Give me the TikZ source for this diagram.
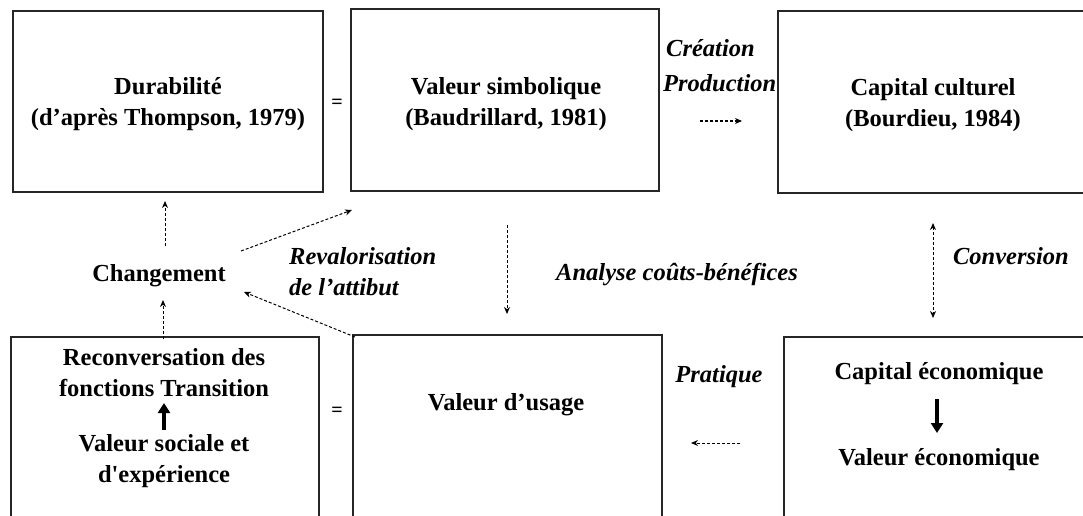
\documentclass[tikz,border=0pt]{standalone}
\usepackage{fontspec}
\setmainfont{Liberation Serif}[Ligatures=TeXOff]
\usetikzlibrary{arrows.meta}
\begin{document}
\begin{tikzpicture}[x=1pt,y=-1pt,
  box/.style={draw=black!85, line width=1.2pt},
  txt/.style={font=\fontsize{24.5}{31}\selectfont\bfseries, align=center, inner sep=0pt},
  itxt/.style={font=\fontsize{24.5}{31}\selectfont\bfseries\itshape, align=left, inner sep=0pt},
  eq/.style={font=\fontsize{20}{20}\selectfont\bfseries, inner sep=0pt},
  dasharrow/.style={densely dashed, line width=1pt, -{Stealth[length=7pt,width=6pt]}},
  dasharrows/.style={densely dashed, line width=1pt, {Stealth[length=7pt,width=6pt]}-{Stealth[length=7pt,width=6pt]}},
  thickarrow/.style={line width=4.5pt, -{Triangle[length=10pt,width=12pt]}}]
\clip (0,0) rectangle (1083,516);
\fill[white] (0,0) rectangle (1083,516);
% boxes
\draw[box] (13,11) rectangle (323,192) node[pos=0.5,inner sep=0] (b1) {};
\draw[box] (351,9) rectangle (659,191) node[pos=0.5,inner sep=0] (b2) {};
\draw[box] (778,11) rectangle (1095,193) node[pos=0.5,inner sep=0] (b3) {};
\draw[box] (11,337) rectangle (319,530) node[pos=0.5,inner sep=0] (b4) {};
\draw[box] (353,335) rectangle (662,530) node[pos=0.5,inner sep=0] (b5) {};
\draw[box] (784,337) rectangle (1095,530) node[pos=0.5,inner sep=0] (b6) {};
% box texts
\node[txt] (t1) at (168,104) {Durabilité\\(d’après Thompson, 1979)};
\node[txt] (t2) at (506,104) {Valeur simbolique\\(Baudrillard, 1981)};
\node[txt] (t3) at (933,105) {Capital culturel\\(Bourdieu, 1984)};
\node[txt] (t4a) at (164,373) {Reconversation des\\fonctions Transition};
\node[txt] (t4b) at (164,461) {Valeur sociale et\\d'expérience};
\node[txt] (t5) at (506,405) {Valeur d’usage};
\node[txt] (t6a) at (939,374) {Capital économique};
\node[txt] (t6b) at (939,460) {Valeur économique};
\node[txt] (ch) at (159,276) {Changement};
% equals
\node[eq] (e1) at (337,104) {=};
\node[eq] (e2) at (337,412) {=};
% italic labels
\node[itxt, anchor=west, font=\fontsize{24.5}{35}\selectfont\bfseries\itshape] (cr) at (663,66) {\hspace*{3pt}Création\\Production};
\node[itxt, anchor=west] (rv) at (289,272) {Revalorisation\\de l’attibut};
\node[itxt] (an) at (677,275) {Analyse coûts-bénéfices};
\node[itxt] (cv) at (1011,256) {Conversion};
\node[itxt] (pr) at (719,377) {Pratique};
% arrow endpoints
\coordinate (p1) at (700,121); \coordinate (p2) at (742,121);
\coordinate (c1) at (165,246); \coordinate (c2) at (165,201);
\coordinate (c3) at (163,339); \coordinate (c4) at (163,300);
\coordinate (r1) at (241,251); \coordinate (r2) at (352,210);
\coordinate (r3) at (355,337); \coordinate (r4) at (244,292);
\coordinate (d1) at (507,225); \coordinate (d2) at (507,314);
\coordinate (v1) at (933,223); \coordinate (v2) at (933,318);
\coordinate (q1) at (740,443); \coordinate (q2) at (691,443);
\coordinate (k1) at (164,430); \coordinate (k2) at (164,403);
\coordinate (m1) at (937,399); \coordinate (m2) at (937,433);
% arrows
\draw[dasharrow] (p1) -- (p2);
\draw[dasharrow] (c1) -- (c2);
\draw[dasharrow] (c3) -- (c4);
\draw[dasharrow] (r1) -- (r2);
\draw[dasharrow] (r3) -- (r4);
\draw[dasharrow] (d1) -- (d2);
\draw[dasharrows] (v1) -- (v2);
\draw[dasharrow] (q1) -- (q2);
\draw[thickarrow] (k1) -- (k2);
\draw[thickarrow] (m1) -- (m2);
\end{tikzpicture}
\end{document}
